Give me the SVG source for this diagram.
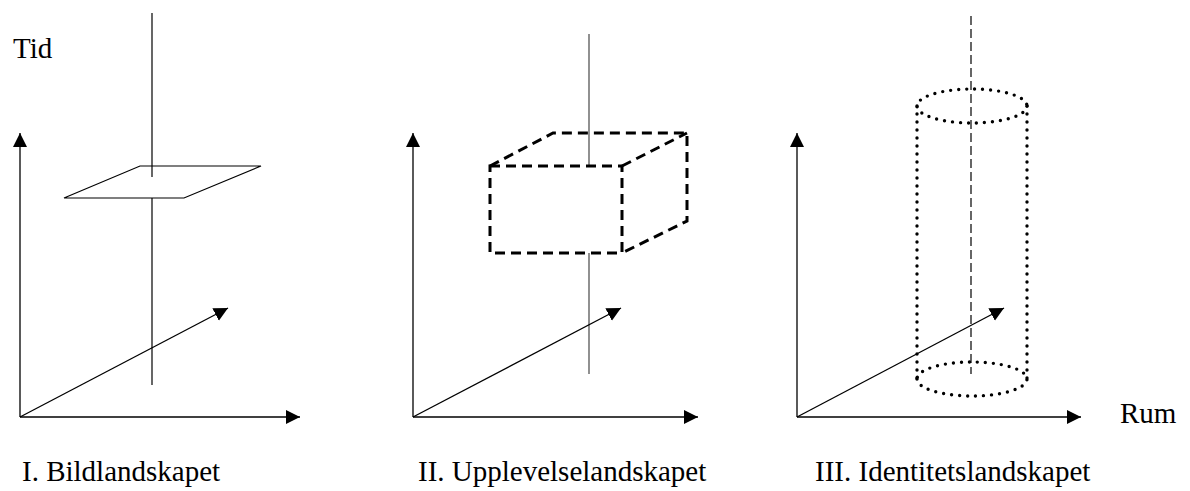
<svg xmlns="http://www.w3.org/2000/svg" width="1190" height="491" viewBox="0 0 1190 491">
<defs>
<style>
.ax{stroke:#000;stroke-width:1.3;fill:none}
.ln{stroke:#000;stroke-width:1.2;fill:none}
.box{stroke:#000;stroke-width:3;fill:none;stroke-dasharray:10 6}
.dot{stroke:#000;stroke-width:3.4;fill:none;stroke-dasharray:0 8;stroke-linecap:round}
.dash{stroke:#000;stroke-width:1.2;fill:none;stroke-dasharray:9 4}
text{font-family:"Liberation Serif","Times New Roman",serif;font-size:29px;fill:#000}
</style>
<marker id="ah" markerWidth="16" markerHeight="16" refX="14" refY="7" orient="auto" markerUnits="userSpaceOnUse">
<path d="M0,0 L14,7 L0,14 Z" fill="#000"/>
</marker>
</defs>
<g id="labels">
<text x="13" y="58">Tid</text>
<text x="1120" y="423">Rum</text>
</g>
<g id="panel1">
<line class="ln" x1="152" y1="13" x2="152" y2="177"/>
<line class="ln" x1="152" y1="198" x2="152" y2="385"/>
<polygon class="ln" points="64,198 140,166 261,166 184,198"/>
<text x="22" y="481">I. Bildlandskapet</text>
</g>
<g id="panel2">
<line x1="589" y1="34" x2="589" y2="166" stroke="#555" stroke-width="1.3"/>
<line x1="589" y1="253" x2="589" y2="374" stroke="#555" stroke-width="1.3"/>
<path class="box" d="M490,166 L622,166 L622,253 L490,253 Z"/>
<path class="box" d="M490,166 L553,133 L687,133 L687,221 L622,253"/>
<path class="box" d="M622,166 L687,133"/>
<text x="418" y="481">II. Upplevelselandskapet</text>
</g>
<g id="panel3">
<line class="dash" x1="971" y1="16" x2="971" y2="374"/>
<ellipse class="dot" cx="972" cy="106" rx="55" ry="17"/>
<path class="dot" d="M917,379 A55,17 0 0 0 1027,379 A55,17 0 0 0 917,379"/>
<line class="dot" x1="917" y1="106" x2="917" y2="379"/>
<line class="dot" x1="1027" y1="106" x2="1027" y2="379"/>
<text x="815" y="481">III. Identitetslandskapet</text>
</g>
<g id="connectors">
<line class="ax" x1="20" y1="417" x2="20" y2="133" marker-end="url(#ah)"/>
<line class="ax" x1="20" y1="417" x2="300" y2="417" marker-end="url(#ah)"/>
<line class="ax" x1="20" y1="417" x2="228" y2="308" marker-end="url(#ah)"/>
<line class="ax" x1="413" y1="417" x2="413" y2="133" marker-end="url(#ah)"/>
<line class="ax" x1="413" y1="417" x2="698" y2="417" marker-end="url(#ah)"/>
<line class="ax" x1="413" y1="417" x2="621" y2="308" marker-end="url(#ah)"/>
<line class="ax" x1="797" y1="417" x2="797" y2="133" marker-end="url(#ah)"/>
<line class="ax" x1="797" y1="417" x2="1081" y2="417" marker-end="url(#ah)"/>
<line class="ax" x1="797" y1="417" x2="1004" y2="308" marker-end="url(#ah)"/>
</g>
</svg>
